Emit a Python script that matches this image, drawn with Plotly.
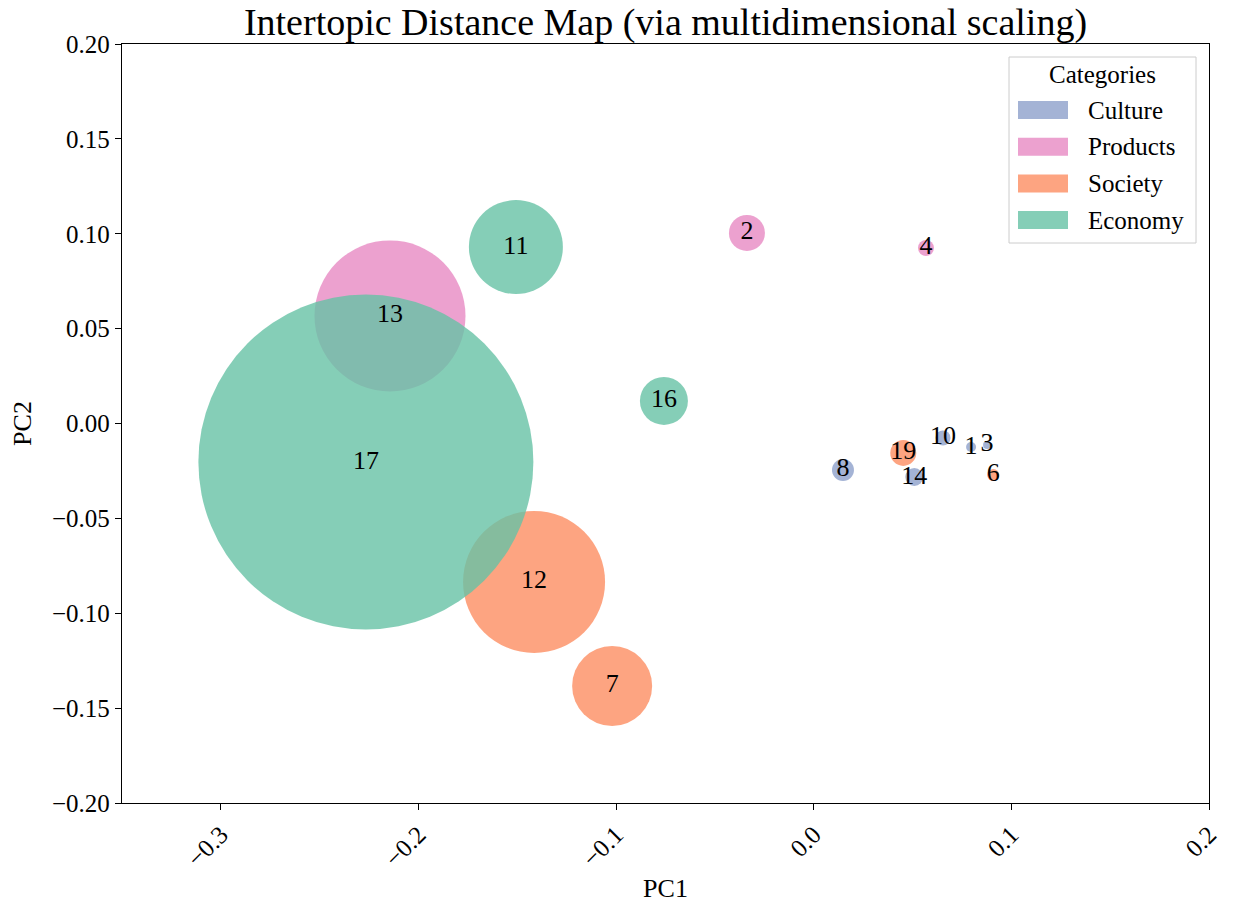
import plotly.graph_objects as go

topics = [1, 2, 3, 4, 6, 7, 8, 10, 11, 12, 13, 14, 16, 17, 19]
pc1 = [0.0796, -0.0338, 0.0877, 0.0568, 0.0908, -0.1020, 0.0148, 0.0654, -0.1507, -0.1415, -0.2144, 0.0509, -0.0758, -0.2266, 0.0453]
pc2 = [-0.0124, 0.1004, -0.0113, 0.0925, -0.0271, -0.1383, -0.0245, -0.0076, 0.0930, -0.0835, 0.0567, -0.0282, 0.0119, -0.0203, -0.0155]
sizes = [10, 36, 8, 16, 12, 80, 22, 15, 94, 142, 151, 18, 48, 335, 26]
cats = ["Culture", "Products", "Culture", "Products", "Society", "Society", "Culture", "Culture",
        "Economy", "Society", "Products", "Culture", "Economy", "Economy", "Society"]

categories = ["Culture", "Products", "Society", "Economy"]
colors = {"Culture": "rgba(141,160,203,0.8)", "Products": "rgba(231,138,195,0.8)",
          "Society": "rgba(252,141,98,0.8)", "Economy": "rgba(102,194,165,0.8)"}

xticks = [-0.3, -0.2, -0.1, 0.0, 0.1, 0.2]
xticktext = ["\u22120.3", "\u22120.2", "\u22120.1", "0.0", "0.1", "0.2"]
yticks = [0.20, 0.15, 0.10, 0.05, 0.00, -0.05, -0.10, -0.15, -0.20]
yticktext = ["0.20", "0.15", "0.10", "0.05", "0.00", "\u22120.05", "\u22120.10", "\u22120.15", "\u22120.20"]

FONT = "Liberation Serif"
fig = go.Figure()
for c in categories:
    idx = [i for i, k in enumerate(cats) if k == c]
    fig.add_trace(go.Scatter(
        x=[pc1[i] for i in idx], y=[pc2[i] for i in idx], mode="markers",
        marker=dict(size=[sizes[i] for i in idx], color=colors[c], opacity=1, line=dict(width=0)),
        name=c, showlegend=False))
fig.add_trace(go.Scatter(x=pc1, y=pc2, mode="text", text=[str(t) for t in topics],
                         textposition="middle center",
                         textfont=dict(family=FONT, size=26, color="black"), showlegend=False))

# screen-coordinate plot area (page has an 8px body margin)
OFF = 8
L, R, T, B = 122, 1209, 44, 803
W, H = 1233 - OFF, 903 - OFF
def px(x): return (x - L) / (R - L)
def py(y): return (B - y) / (B - T)
shapes = [dict(type="rect", xref="paper", yref="paper", x0=px(1009), x1=px(1196), y0=py(243), y1=py(57),
               line=dict(color="#cccccc", width=1), fillcolor="rgba(255,255,255,0.8)", layer="above")]
annotations = [dict(text="Categories", xref="paper", yref="paper", x=px(1102), y=py(75), showarrow=False,
                    font=dict(family=FONT, size=25, color="black"), xanchor="center", yanchor="middle")]
for j, c in enumerate(categories):
    yc = 110 + j * 36.7
    shapes.append(dict(type="rect", xref="paper", yref="paper", x0=px(1018), x1=px(1068),
                       y0=py(yc + 9), y1=py(yc - 9), line=dict(width=0), fillcolor=colors[c], layer="above"))
    annotations.append(dict(text=c, xref="paper", yref="paper", x=px(1086), y=py(yc), showarrow=False,
                            font=dict(family=FONT, size=25, color="black"), xanchor="left", yanchor="middle"))

axis_common = dict(showgrid=False, zeroline=False, showline=True, linecolor="black", linewidth=1.3,
                   mirror=True, ticks="outside", ticklen=6, tickwidth=1.3, tickcolor="black",
                   automargin=False, tickfont=dict(family=FONT, size=25, color="black"))
fig.update_layout(
    width=W, height=H, plot_bgcolor="white", paper_bgcolor="white",
    margin=dict(l=L - OFF, r=1233 - R, t=T - OFF, b=903 - B),
    title=dict(text="Intertopic Distance Map (via multidimensional scaling)", x=(L - OFF + (R - L) / 2) / W,
               xanchor="center", y=1 - (22 - OFF) / H, yanchor="middle", yref="container",
               font=dict(family=FONT, size=38, color="black")),
    xaxis=dict(range=[-0.35, 0.2], tickvals=xticks, ticktext=xticktext, tickangle=-45,
               title=dict(text="PC1", font=dict(family=FONT, size=26, color="black"), standoff=20),
               **axis_common),
    yaxis=dict(range=[-0.2, 0.2], tickvals=yticks, ticktext=yticktext,
               title=dict(text="PC2", font=dict(family=FONT, size=26, color="black"), standoff=12),
               **axis_common),
    shapes=shapes, annotations=annotations,
)
fig.write_html("out.html")
